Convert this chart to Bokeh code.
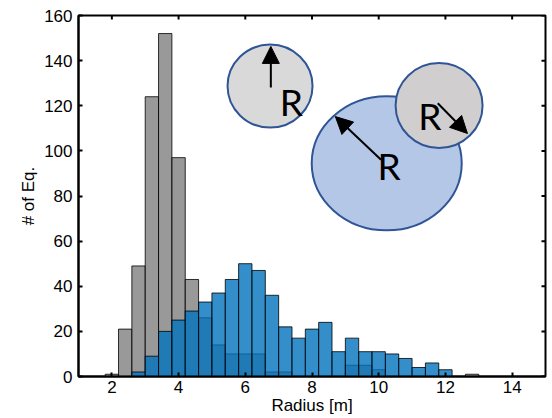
from bokeh.plotting import figure
from bokeh.models import FixedTicker, Arrow, NormalHead, ColumnDataSource
from bokeh.core.properties import value
from bokeh.embed import file_html
from bokeh.resources import INLINE

# ---- data ----
bin_left = [1.8, 2.2, 2.6, 3.0, 3.4, 3.8, 4.2, 4.6, 5.0, 5.4, 5.8, 6.2, 6.6, 7.0,
            7.4, 7.8, 8.2, 8.6, 9.0, 9.4, 9.8, 10.2, 10.6, 11.0, 11.4, 11.8, 12.2, 12.6]
bin_width = 0.4
gray_counts = [1, 21, 49, 124, 152, 97, 43, 26, 14, 10, 10, 10, 2, 2,
               0, 0, 0, 0, 5, 5, 3, 0, 0, 0, 0, 0, 0, 1]
blue_counts = [0, 0, 2, 9, 20, 25, 29, 33, 37, 43, 50, 47, 36, 22,
               17, 21, 24, 11, 17, 11, 11, 10, 8, 4, 6, 3, 0, 0]
x_ticks = [2, 4, 6, 8, 10, 12, 14]
y_ticks = [0, 20, 40, 60, 80, 100, 120, 140, 160]
x_lim = (1, 15)
y_lim = (0, 160)

# inset illustration (data coordinates for centres, screen px for sizes)
circ_x = [6.742, 10.24, 11.81]
circ_y = [128.7, 94.5, 120.1]
circ_w = [85, 150, 87]
circ_h = [83, 134, 85]
circ_fill = ["#d9d9d9", "#b4c7e7", "#d0cece"]
arrow_x0 = [6.766, 10.07, 11.77]
arrow_y0 = [128.1, 96.1, 121.1]
arrow_x1 = [6.766, 8.70, 12.66]
arrow_y1 = [146.3, 115.2, 107.7]
label_x = [7.377, 10.31, 11.53]
label_y = [121.9, 93.5, 115.7]
label_text = ["R", "R", "R"]

FONT = "Liberation Sans"
FRAME_W, FRAME_H = 467, 361
TICK_PX = 4

p = figure(width=552, height=418, x_range=x_lim, y_range=y_lim,
           output_backend="svg", toolbar_location=None,
           min_border_left=78, min_border_right=7, min_border_top=15, min_border_bottom=42)
p.xgrid.visible = False
p.ygrid.visible = False
p.outline_line_color = "black"
p.outline_line_width = 2
p.background_fill_color = "white"
p.border_fill_color = "white"

bin_right = [b + bin_width for b in bin_left]
src = ColumnDataSource(dict(left=bin_left, right=bin_right, gray=gray_counts, blue=blue_counts))

p.quad(left="left", right="right", bottom=0, top="gray", source=src,
       fill_color="#808080", fill_alpha=0.8, line_color="black", line_alpha=0.8, line_width=1)
p.quad(left="left", right="right", bottom=0, top="blue", source=src,
       fill_color="#0072bd", fill_alpha=0.8, line_color="black", line_alpha=0.8, line_width=1)

# inset circles
p.ellipse(x=circ_x, y=circ_y, width=circ_w, height=circ_h,
          width_units="screen", height_units="screen",
          fill_color=circ_fill, line_color="#2f5597", line_width=2)
for i in range(3):
    p.add_layout(Arrow(end=NormalHead(size=17, fill_color="black", line_color="black"),
                       x_start=arrow_x0[i], y_start=arrow_y0[i],
                       x_end=arrow_x1[i], y_end=arrow_y1[i],
                       line_color="black", line_width=2))
p.text(x=label_x, y=label_y, text=label_text, text_font=value("Lato"),
       text_font_size="37px", text_align="center", text_baseline="alphabetic",
       text_color="black")

# mirrored inward ticks on top and right edges (box on)
dy = TICK_PX * (y_lim[1] - y_lim[0]) / FRAME_H
dx = TICK_PX * (x_lim[1] - x_lim[0]) / FRAME_W
p.segment(x0=x_ticks, x1=x_ticks, y0=[y_lim[1]] * len(x_ticks),
          y1=[y_lim[1] - dy] * len(x_ticks), line_color="black", line_width=2)
p.segment(x0=[x_lim[1]] * len(y_ticks), x1=[x_lim[1] - dx] * len(y_ticks),
          y0=y_ticks, y1=y_ticks, line_color="black", line_width=2)

# axes
for ax in (p.xaxis[0], p.yaxis[0]):
    ax.major_tick_in = TICK_PX
    ax.major_tick_out = 0
    ax.major_tick_line_width = 2
    ax.minor_tick_line_color = None
    ax.axis_line_width = 2
    ax.major_label_text_font = FONT
    ax.major_label_text_font_size = "17px"
    ax.major_label_text_color = "black"
    ax.axis_label_text_font = FONT
    ax.axis_label_text_font_style = "normal"
    ax.axis_label_text_color = "black"

p.xaxis.ticker = FixedTicker(ticks=x_ticks)
p.yaxis.ticker = FixedTicker(ticks=y_ticks)
p.xaxis.axis_label = "Radius [m]"
p.yaxis.axis_label = "# of Eq."
p.xaxis.axis_label_text_font_size = "17px"
p.yaxis.axis_label_text_font_size = "17px"
p.xaxis.major_label_standoff = 4
p.xaxis.axis_label_standoff = 0
p.yaxis.major_label_standoff = 6
p.yaxis.axis_label_standoff = 3

open("out.html", "w").write(file_html(p, INLINE))
